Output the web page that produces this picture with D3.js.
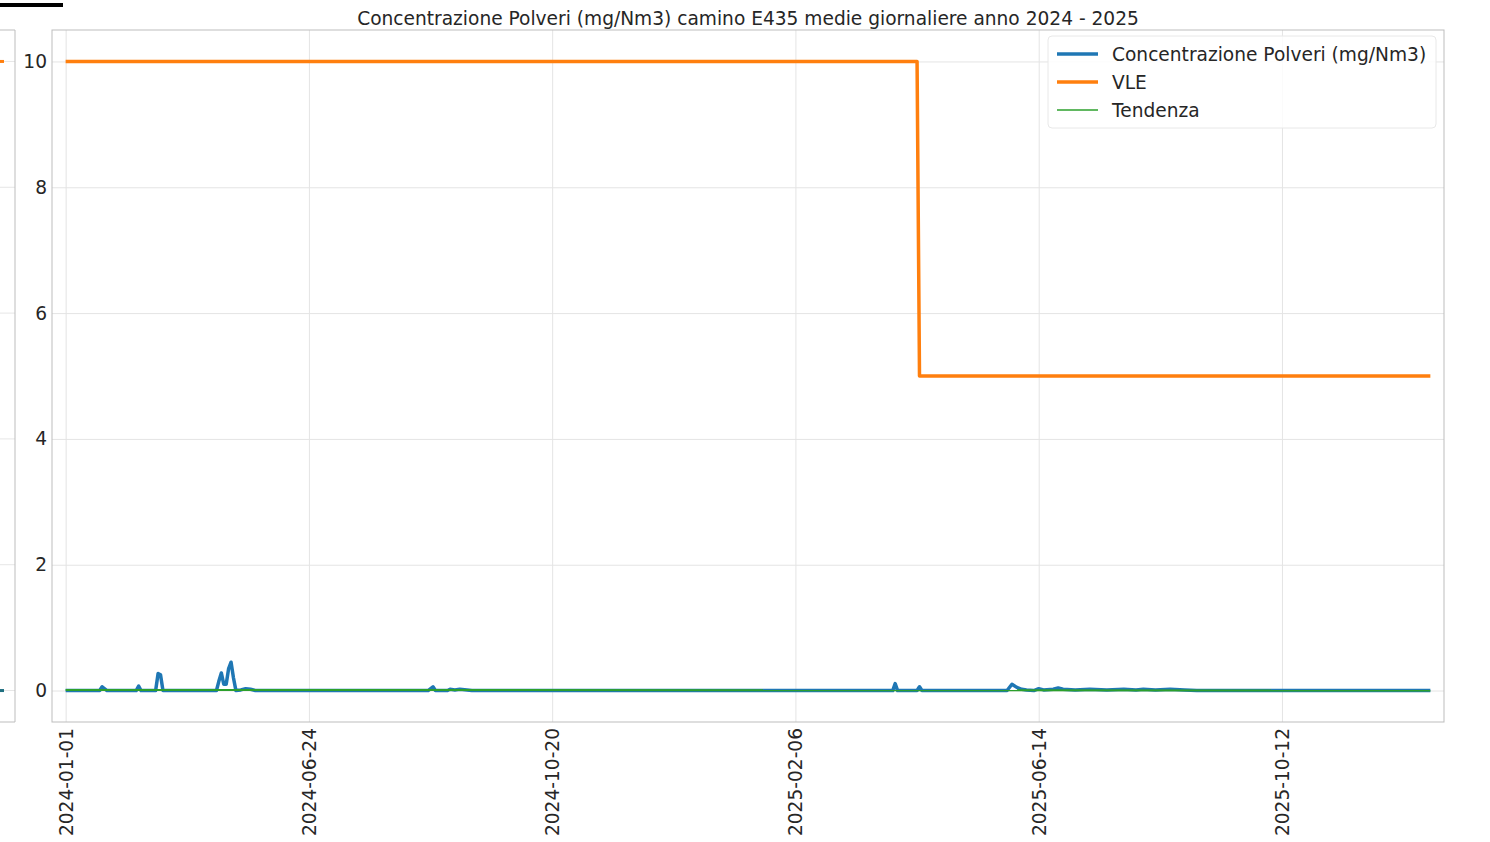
<!DOCTYPE html>
<html>
<head>
<meta charset="utf-8">
<script src="https://cdn.jsdelivr.net/npm/d3@7"></script>
<style>
  body { margin: 0; background: #fff; }
  svg text { font-family: "DejaVu Sans", sans-serif; }
</style>
</head>
<body>
<svg id="chart" width="1490" height="842"></svg>
<script>
// tick labels on the categorical x axis (one every tickStep samples)
const dateLabels = ['2024-01-01', '2024-06-24', '2024-10-20', '2025-02-06', '2025-06-14', '2025-10-12'];
const tickStep = 100;
const lastIndex = 561;
const yTicks = [0, 2, 4, 6, 8, 10];

// Concentrazione Polveri, vertices (sample index, value)
const polveriIdx = [0, 14, 15, 17, 29, 30, 31, 37, 38, 39, 40, 62, 63, 64, 65, 66, 67, 68, 69, 70, 72, 74, 76, 78,
  149, 151, 152, 157, 158, 160, 162, 165, 167, 340, 341, 342, 350, 351, 352, 387, 389, 391, 393, 395, 398,
  400, 402, 406, 408, 410, 415, 421, 428, 435, 440, 443, 448, 454, 460, 465, 561];
const polveriVal = [0, 0, 0.06, 0, 0, 0.07, 0, 0, 0.27, 0.25, 0, 0, 0.15, 0.28, 0.1, 0.1, 0.35, 0.45, 0.2, 0, 0.01, 0.03, 0.02, 0,
  0, 0.06, 0, 0, 0.02, 0.01, 0.02, 0.01, 0, 0, 0.11, 0, 0, 0.06, 0, 0, 0.1, 0.05, 0.02, 0.01, 0,
  0.03, 0.01, 0.02, 0.04, 0.02, 0.01, 0.02, 0.01, 0.02, 0.01, 0.02, 0.01, 0.02, 0.01, 0, 0];

// VLE limit
const vleIdx = [0, 350, 351, 561];
const vleVal = [10, 10, 5, 5];

// Tendenza
const trendIdx = [0, 561];
const trendVal = [0.01, 0.0];

const colors = { polveri: '#1f77b4', vle: '#ff7f0e', trend: '#2ca02c' };
const title = 'Concentrazione Polveri (mg/Nm3) camino E435 medie giornaliere anno 2024 - 2025';
const fs = 18.6;

const svg = d3.select('#chart');
const plot = { left: 52, right: 1444, top: 30, bottom: 722 };

const pad = lastIndex * 0.01;
const x = d3.scaleLinear().domain([-pad, lastIndex + pad]).range([plot.left, plot.right]);
const y = d3.scaleLinear().domain([-0.5, 10.5]).range([plot.bottom, plot.top]);

// leftover of a neighbouring chart cropped at the left edge
const ghost = svg.append('g');
ghost.append('rect').attr('x', 0).attr('y', 3).attr('width', 63).attr('height', 4).attr('fill', '#000');
ghost.selectAll('line.g').data(yTicks).enter().append('line')
  .attr('x1', 0).attr('x2', 15).attr('y1', d => y(d)).attr('y2', d => y(d))
  .attr('stroke', '#e6e6e6');
ghost.append('path').attr('d', `M0,${plot.top}H15V${plot.bottom}H0`).attr('fill', 'none').attr('stroke', '#bdbdbd');
ghost.append('line').attr('x1', 0).attr('x2', 4).attr('y1', y(10)).attr('y2', y(10))
  .attr('stroke', colors.vle).attr('stroke-width', 3);
ghost.append('line').attr('x1', 0).attr('x2', 4).attr('y1', y(0)).attr('y2', y(0))
  .attr('stroke', '#1f6f80').attr('stroke-width', 3);

// grid
svg.append('g').attr('transform', `translate(${plot.left},0)`)
  .call(d3.axisLeft(y).tickValues(yTicks).tickSize(-(plot.right - plot.left)).tickFormat(''))
  .call(g => g.select('.domain').remove())
  .call(g => g.selectAll('line').attr('stroke', '#e4e4e4'));
svg.append('g').attr('transform', `translate(0,${plot.bottom})`)
  .call(d3.axisBottom(x).tickValues(dateLabels.map((d, i) => i * tickStep)).tickSize(-(plot.bottom - plot.top)).tickFormat(''))
  .call(g => g.select('.domain').remove())
  .call(g => g.selectAll('line').attr('stroke', '#e4e4e4'));

// frame
svg.append('rect')
  .attr('x', plot.left).attr('y', plot.top)
  .attr('width', plot.right - plot.left).attr('height', plot.bottom - plot.top)
  .attr('fill', 'none').attr('stroke', '#bdbdbd');

// axes labels
svg.append('g').attr('transform', `translate(${plot.left},0)`)
  .call(d3.axisLeft(y).tickValues(yTicks).tickSize(0).tickPadding(5).tickFormat(d3.format('d')))
  .call(g => g.select('.domain').remove())
  .call(g => g.selectAll('text').attr('font-size', fs).attr('fill', '#262626')
    .attr('font-family', '"DejaVu Sans", sans-serif'));

svg.append('g').attr('transform', `translate(0,${plot.bottom})`)
  .call(d3.axisBottom(x).tickValues(dateLabels.map((d, i) => i * tickStep)).tickSize(0).tickFormat((d, i) => dateLabels[i]))
  .call(g => g.select('.domain').remove())
  .call(g => g.selectAll('text')
    .attr('font-size', fs).attr('fill', '#262626')
    .attr('font-family', '"DejaVu Sans", sans-serif')
    .attr('text-anchor', 'end')
    .attr('transform', 'rotate(-90)')
    .attr('x', -6).attr('y', 0).attr('dy', '0.35em'));

// lines
const line = d3.line().x(d => x(d[0])).y(d => y(d[1]));
const series = [
  { pts: d3.zip(vleIdx, vleVal), color: colors.vle, w: 3.5 },
  { pts: d3.zip(polveriIdx, polveriVal), color: colors.polveri, w: 3.5 },
  { pts: d3.zip(trendIdx, trendVal), color: colors.trend, w: 2 }
];
svg.append('g').selectAll('path')
  .data(series).enter().append('path')
  .attr('d', d => line(d.pts))
  .attr('fill', 'none')
  .attr('stroke', d => d.color)
  .attr('stroke-width', d => d.w)
  .attr('stroke-linejoin', 'round');

// title
svg.append('text')
  .attr('x', (plot.left + plot.right) / 2).attr('y', 25)
  .attr('text-anchor', 'middle')
  .attr('font-size', fs).attr('fill', '#262626')
  .text(title);

// legend
const legendItems = [
  { label: 'Concentrazione Polveri (mg/Nm3)', color: colors.polveri, w: 3.5 },
  { label: 'VLE', color: colors.vle, w: 3.5 },
  { label: 'Tendenza', color: colors.trend, w: 1.5 }
];
const lg = svg.append('g').attr('transform', 'translate(1048,36)');
lg.append('rect').attr('width', 388).attr('height', 92).attr('rx', 4)
  .attr('fill', '#fff').attr('fill-opacity', 0.85).attr('stroke', '#e8e8e8');
const li = lg.selectAll('g.item').data(legendItems).enter().append('g')
  .attr('transform', (d, i) => `translate(0,${18 + i * 28})`);
li.append('line').attr('x1', 9).attr('x2', 50)
  .attr('stroke', d => d.color).attr('stroke-width', d => d.w);
li.append('text').attr('x', 64).attr('dy', '0.35em')
  .attr('font-size', fs).attr('fill', '#262626')
  .text(d => d.label);
</script>
</body>
</html>
